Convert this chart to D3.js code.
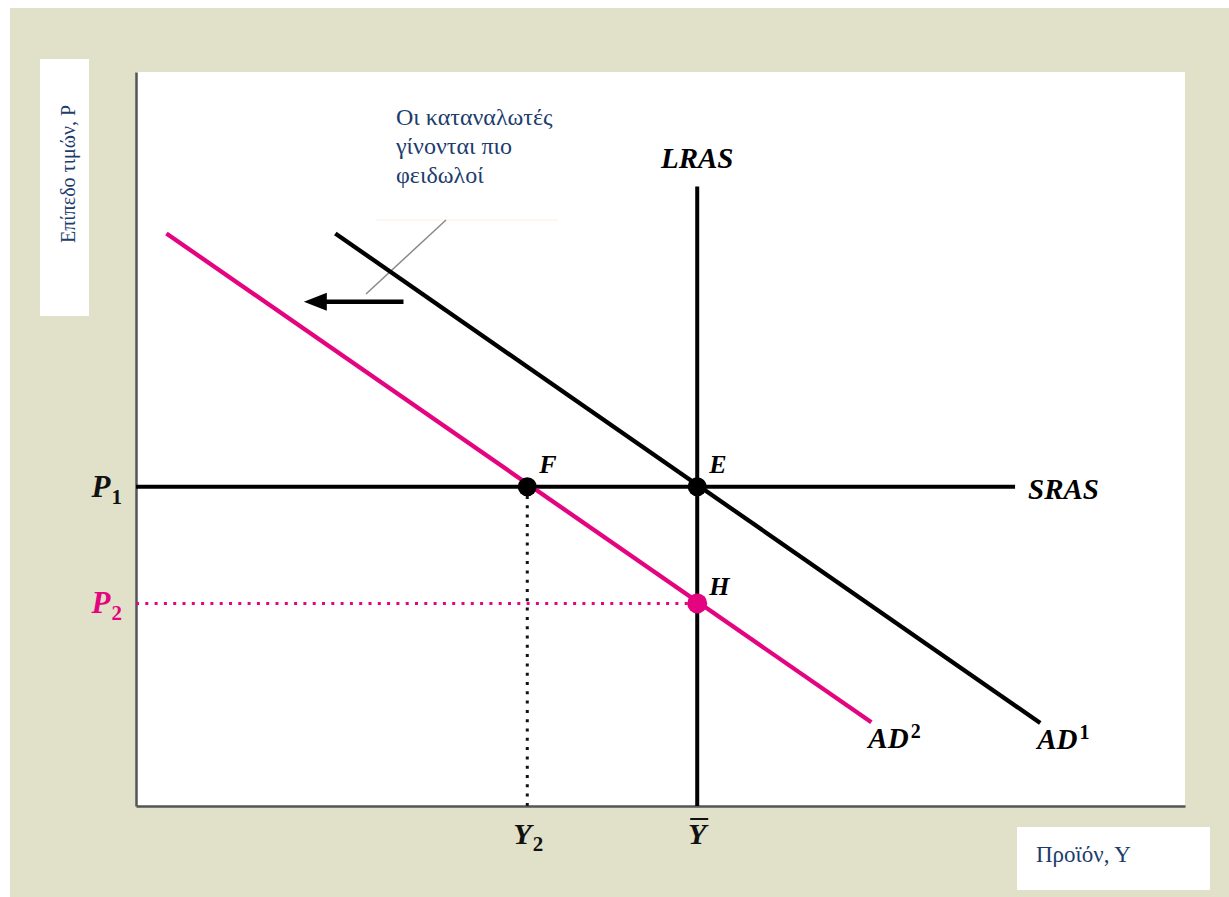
<!DOCTYPE html>
<html>
<head>
  <meta charset="utf-8">
  <script src="https://d3js.org/d3.v7.min.js"></script>
  <style>
    body { margin: 0; background: #ffffff; }
    .lab { font-family: "Liberation Serif", "Times New Roman", serif; font-style: italic; font-weight: bold; }
    .note { font-family: "Liberation Serif", "Times New Roman", serif; fill: #1d3d6c; }
  </style>
</head>
<body>
<div id="chart"></div>
<script>
// chart values (abstract units 0..100 on both axes)
const ad1 = [[19.0, 78.0], [86.2, 11.3]];
const ad2 = [[2.9, 78.0], [70.1, 11.4]];
const lras = [[53.5, 0], [53.5, 84.4]];
const sras = [[0, 43.5], [83.8, 43.5]];
const p2Guide = [[0, 27.6], [53.5, 27.6]];
const y2Guide = [[37.3, 43.5], [37.3, 0]];
const shiftArrow = [[25.5, 68.7], [16.0, 68.7]];
const equilibria = [["F", 37.3, 43.5], ["E", 53.5, 43.5], ["H", 53.5, 27.6]];
const priceTicks = [["P", "1", 43.5], ["P", "2", 27.6]];
const outputTicks = [["Y", "2", 37.3], ["Y", "", 53.5]];
const noteLines = ["Οι καταναλωτές", "γίνονται πιο", "φειδωλοί"];

const W = 1229, H = 897;
const pink = "#e4047f";

const svg = d3.select("#chart")
  .append("svg")
    .attr("width", W)
    .attr("height", H);

// background panel
svg.append("rect").attr("x", 10).attr("y", 8).attr("width", W - 10).attr("height", H - 8).attr("fill", "#e0e1c8");

const x = d3.scaleLinear().domain([0, 100]).range([136, 1185]);
const y = d3.scaleLinear().domain([0, 100]).range([806, 72]);

// plot area
svg.append("rect")
  .attr("x", x(0)).attr("y", y(100))
  .attr("width", x(100) - x(0)).attr("height", y(0) - y(100))
  .attr("fill", "#ffffff");

// axes
svg.append("g")
  .attr("transform", `translate(0,${y(0)})`)
  .call(d3.axisBottom(x).tickValues([]).tickSizeOuter(0))
  .call(g => g.select(".domain").attr("stroke", "#555").attr("stroke-width", 2.5));
svg.append("g")
  .attr("transform", `translate(${x(0)},0)`)
  .call(d3.axisLeft(y).tickValues([]).tickSizeOuter(0))
  .call(g => g.select(".domain").attr("stroke", "#555").attr("stroke-width", 2.5));

const line = d3.line().x(d => x(d[0])).y(d => y(d[1]));

// annotation box underline and leader
svg.append("line").attr("x1", 376).attr("x2", 558).attr("y1", 220).attr("y2", 220)
  .attr("stroke", "#fbeedd").attr("stroke-width", 1);
svg.append("line").attr("x1", 446).attr("y1", 220).attr("x2", 366).attr("y2", 294)
  .attr("stroke", "#8a8a8a").attr("stroke-width", 1.5);

// dotted guides
svg.append("path").attr("d", line(p2Guide)).attr("fill", "none")
  .attr("stroke", pink).attr("stroke-width", 3).attr("stroke-dasharray", "3,6.3");
svg.append("path").attr("d", line(y2Guide)).attr("fill", "none")
  .attr("stroke", "#111").attr("stroke-width", 3).attr("stroke-dasharray", "3,6.3");

// curves
svg.append("path").attr("d", line(sras)).attr("fill", "none").attr("stroke", "#000").attr("stroke-width", 4);
svg.append("path").attr("d", line(lras)).attr("fill", "none").attr("stroke", "#000").attr("stroke-width", 4);
svg.append("path").attr("d", line(ad1)).attr("fill", "none").attr("stroke", "#000").attr("stroke-width", 4.3);
svg.append("path").attr("d", line(ad2)).attr("fill", "none").attr("stroke", pink).attr("stroke-width", 4.3);

// shift arrow
const a0 = shiftArrow[0], a1 = shiftArrow[1];
svg.append("line")
  .attr("x1", x(a0[0])).attr("y1", y(a0[1]))
  .attr("x2", x(a1[0]) + 14).attr("y2", y(a1[1]))
  .attr("stroke", "#000").attr("stroke-width", 4.5);
svg.append("path")
  .attr("d", `M${x(a1[0])},${y(a1[1])} L${x(a1[0]) + 23},${y(a1[1]) - 9} L${x(a1[0]) + 23},${y(a1[1]) + 9} Z`)
  .attr("fill", "#000");

// equilibrium points
svg.selectAll(".pt")
  .data(equilibria)
  .join("circle")
    .attr("class", "pt")
    .attr("cx", d => x(d[1]))
    .attr("cy", d => y(d[2]))
    .attr("r", d => d[0] === "H" ? 10 : 9.5)
    .attr("fill", d => d[0] === "H" ? pink : "#000");

svg.selectAll(".ptlab")
  .data(equilibria)
  .join("text")
    .attr("class", "lab ptlab")
    .attr("x", d => x(d[1]) + 12)
    .attr("y", d => y(d[2]) - (d[0] === "H" ? 8 : 14))
    .attr("font-size", 26)
    .text(d => d[0]);

// price ticks
const pt = svg.selectAll(".ptick")
  .data(priceTicks)
  .join("text")
    .attr("class", "lab ptick")
    .attr("x", x(0) - 14)
    .attr("y", d => y(d[2]) + 10)
    .attr("text-anchor", "end")
    .attr("font-size", 31)
    .attr("fill", (d, i) => i === 1 ? pink : "#111");
pt.append("tspan").text(d => d[0]);
pt.append("tspan").attr("dx", 1).attr("dy", 7).attr("font-size", 21).attr("font-style", "normal").text(d => d[1]);

// output ticks
const ot = svg.selectAll(".otick")
  .data(outputTicks)
  .join("text")
    .attr("class", "lab otick")
    .attr("x", d => x(d[2]) + (d[1] === "" ? 0 : 1))
    .attr("y", y(0) + 38)
    .attr("text-anchor", "middle")
    .attr("font-size", 30)
    .attr("fill", "#111");
ot.append("tspan").text(d => d[0]);
ot.append("tspan").attr("dx", 1).attr("dy", 7).attr("font-size", 21).attr("font-style", "normal").text(d => d[1]);
// bar over Y
svg.append("line")
  .attr("x1", x(outputTicks[1][2]) - 7).attr("x2", x(outputTicks[1][2]) + 11)
  .attr("y1", y(0) + 13).attr("y2", y(0) + 13)
  .attr("stroke", "#111").attr("stroke-width", 2);

// curve labels
svg.append("text").attr("class", "lab")
  .attr("x", x(lras[1][0])).attr("y", y(lras[1][1]) - 19)
  .attr("text-anchor", "middle").attr("font-size", 29).text("LRAS");
svg.append("text").attr("class", "lab")
  .attr("x", x(sras[1][0]) + 13).attr("y", y(sras[1][1]) + 12)
  .attr("font-size", 29).text("SRAS");

const adLabs = [["AD", "1", ad1[1]], ["AD", "2", ad2[1]]];
const al = svg.selectAll(".adlab")
  .data(adLabs)
  .join("text")
    .attr("class", "lab adlab")
    .attr("x", d => x(d[2][0]) - 3)
    .attr("y", d => y(d[2][1]) + 26)
    .attr("font-size", 29);
al.append("tspan").text(d => d[0]);
al.append("tspan").attr("dx", 2).attr("dy", -10).attr("font-size", 20).attr("font-style", "normal").text(d => d[1]);

// annotation text
svg.append("text").attr("class", "note")
  .attr("font-size", 24)
  .selectAll("tspan")
  .data(noteLines)
  .join("tspan")
    .attr("x", 396)
    .attr("y", (d, i) => 125 + i * 29)
    .text(d => d);

// axis title boxes
svg.append("rect").attr("x", 40).attr("y", 59).attr("width", 49).attr("height", 257).attr("fill", "#fff");
svg.append("text").attr("class", "note")
  .attr("transform", "translate(75,243) rotate(-90)")
  .attr("font-size", 20)
  .text("Επίπεδο τιμών, P");

svg.append("rect").attr("x", 1017).attr("y", 827).attr("width", 193).attr("height", 63).attr("fill", "#fff");
svg.append("text").attr("class", "note")
  .attr("x", 1036).attr("y", 862)
  .attr("font-size", 23)
  .text("Προϊόν, Υ");
</script>
</body>
</html>
